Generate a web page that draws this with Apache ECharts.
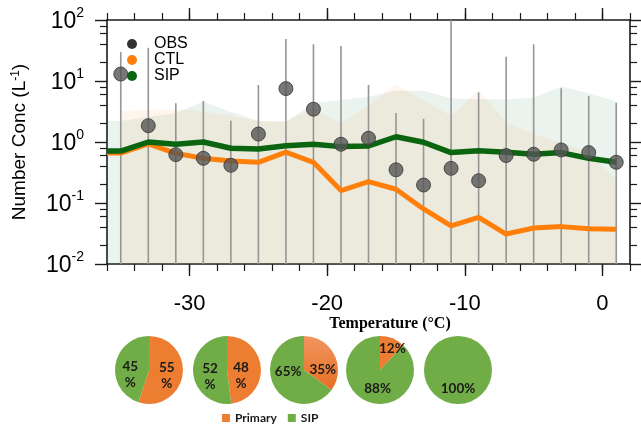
<!DOCTYPE html>
<html>
<head>
<meta charset="utf-8">
<script src="https://cdn.jsdelivr.net/npm/echarts@6/dist/echarts.min.js"></script>
<style>
  html, body { margin: 0; padding: 0; background: #ffffff; }
  #chart { width: 641px; height: 425px; }
</style>
</head>
<body>
<div id="chart"></div>
<script>
// Observed ice number concentration (L^-1) per 2 °C temperature bin
const obsTemp = [-35, -33, -31, -29, -27, -25, -23, -21, -19, -17, -15, -13, -11, -9, -7, -5, -3, -1, 1];
const obsMean = [13.0, 1.85, 0.62, 0.54, 0.415, 1.35, 7.5, 3.45, 0.92, 1.15, 0.35, 0.197, 0.37, 0.232, 0.60, 0.63, 0.74, 0.67, 0.465];
const obsHigh = [30, 35, 4.3, 4.7, 2.23, 8.6, 49, 40, 37.5, 8.6, 3.0, 2.4, 100, 6.5, 25, 40, 7.6, 5.7, 4.4];
const obsLow  = [0.01, 0.01, 0.01, 0.01, 0.01, 0.01, 0.01, 0.01, 0.01, 0.01, 0.01, 0.01, 0.01, 0.01, 0.01, 0.01, 0.01, 0.01, 0.01];

// Model runs: CTL (primary nucleation only) and SIP (with secondary ice production)
const modelTemp = [-36, -35, -33, -31, -29, -27, -25, -23, -21, -19, -17, -15, -13, -11, -9, -7, -5, -3, -1, 1];
const ctlMean = [0.66, 0.66, 0.93, 0.65, 0.54, 0.49, 0.465, 0.68, 0.465, 0.16, 0.224, 0.168, 0.08, 0.042, 0.058, 0.031, 0.039, 0.041, 0.038, 0.037];
const sipMean = [0.71, 0.71, 1.0, 0.92, 1.0, 0.79, 0.77, 0.87, 0.92, 0.84, 0.86, 1.22, 0.99, 0.67, 0.72, 0.68, 0.63, 0.67, 0.54, 0.465];

// Upper envelopes of the model spread (shaded down to the axis floor)
const sipUpper = [2.2, 2.2, 2.57, 3.0, 4.6, 3.1, 2.2, 2.15, 4.3, 4.9, 5.5, 6.9, 6.9, 5.2, 5.0, 5.0, 5.3, 8.1, 6.3, 4.6];
const ctlUpperTemp = [-35, -33, -31, -29, -27, -25, -23, -21, -19, -17, -15, -13, -11, -9, -7, -5, -3, -1, 1];
const ctlUpper = [3.2, 3.35, 3.4, 3.2, 2.67, 2.2, 2.15, 3.6, 2.0, 4.0, 8.8, 4.9, 2.67, 7.1, 2.1, 1.35, 0.98, 0.69, 0.24];

// Share of ice from primary nucleation vs SIP (%), one pie per temperature range
const pieNames = ['Primary', 'SIP'];
const primaryShare = [55, 48, 35, 12, 0];
const sipShare = [45, 52, 65, 88, 100];

// Axis ticks
const xMajorTicks = [-30, -20, -10, 0];
const yMinorTicks = [];
[0.01, 0.1, 1, 10].forEach(d => [2, 4, 6, 8].forEach(m => yMinorTicks.push(+(d * m).toPrecision(3))));

const FONT = 'Liberation Sans';
const AXIS_COLOR = '#1a1a1a';
const PRIMARY_COLOR = '#ED7D31';
const SIP_PIE_COLOR = '#70AD47';
const pieCentersX = [149, 227, 304, 380, 458];
const pieWrap = [true, true, false, false, false];
// label nudges [dx, dy] for the primary and SIP slice labels of each pie
const labelNudge = [
  [[-2, 3], [1, 8]],
  [[-6, 7], [3, 5]],
  [[1, 9], [2, -7]],
  [[5, -3], [5, 0]],
  [[0, 0], [0, -1]]
];

const chart = echarts.init(document.getElementById('chart'), null, { renderer: 'canvas' });

function xAxisDef(position, major) {
  return {
    type: 'value', position: position, min: -36, max: 2,
    interval: major ? undefined : 2,
    axisLine: { show: major, onZero: false, lineStyle: { color: AXIS_COLOR, width: 1.6 } },
    axisTick: major
      ? { show: true, inside: false, length: 12, customValues: xMajorTicks, lineStyle: { color: AXIS_COLOR, width: 1.4 } }
      : { show: true, inside: false, length: 7, lineStyle: { color: AXIS_COLOR, width: 1.2 } },
    axisLabel: (major && position === 'bottom')
      ? { show: true, customValues: xMajorTicks, fontFamily: FONT, fontSize: 22, color: '#000', margin: 29 }
      : { show: false },
    splitLine: { show: false }
  };
}

function yAxisDef(position, major) {
  return {
    type: 'log', logBase: 10, position: position, min: 0.01, max: 100,
    axisLine: { show: major, onZero: false, lineStyle: { color: AXIS_COLOR, width: 1.6 } },
    axisTick: major
      ? { show: true, inside: false, length: 12, lineStyle: { color: AXIS_COLOR, width: 1.4 } }
      : { show: true, inside: false, length: 7, customValues: yMinorTicks, lineStyle: { color: AXIS_COLOR, width: 1.2 } },
    axisLabel: (major && position === 'left') ? {
      show: true, margin: 23,
      formatter: v => '{b|10}{s|' + Math.round(Math.log10(v)) + '}',
      rich: {
        b: { fontFamily: FONT, fontSize: 23, color: '#000', lineHeight: 27, verticalAlign: 'bottom' },
        s: { fontFamily: FONT, fontSize: 14, color: '#000', lineHeight: 14, verticalAlign: 'top' }
      }
    } : { show: false },
    splitLine: { show: false }
  };
}

const pieSeries = primaryShare.map((p, i) => ({
  type: 'pie', name: 'share' + i,
  center: [pieCentersX[i], 370], radius: 34,
  startAngle: 90, clockwise: true, silent: true, animation: false,
  label: {
    show: true, position: 'inside', align: 'center',
    fontFamily: 'Lato', fontWeight: 'bold', fontSize: 13.5, color: '#1a1a1a', lineHeight: 16,
    formatter: prm => prm.value > 0 ? (prm.value + (pieWrap[i] ? '\n%' : '%')) : ''
  },
  labelLayout: prm => ({ dx: labelNudge[i][prm.dataIndex][0], dy: labelNudge[i][prm.dataIndex][1] }),
  labelLine: { show: false },
  emphasis: { disabled: true },
  data: [
    { name: pieNames[0], value: p,
      itemStyle: { color: i === 2
        ? new echarts.graphic.LinearGradient(0, 0, 0, 1, [{ offset: 0, color: '#F09560' }, { offset: 1, color: '#E86F22' }])
        : PRIMARY_COLOR } },
    { name: pieNames[1], value: sipShare[i], itemStyle: { color: SIP_PIE_COLOR } }
  ]
}));

const option = {
  animation: false,
  backgroundColor: '#ffffff',
  grid: { left: 107, right: 11, top: 20, bottom: 161, containLabel: false },
  xAxis: [xAxisDef('bottom', true), xAxisDef('bottom', false), xAxisDef('top', true), xAxisDef('top', false)],
  yAxis: [yAxisDef('left', true), yAxisDef('left', false), yAxisDef('right', true), yAxisDef('right', false)],
  legend: [
    {
      orient: 'vertical', left: 127, top: 36, padding: 0,
      itemWidth: 10, itemHeight: 10, itemGap: 0, icon: 'circle',
      selectedMode: false,
      textStyle: { fontFamily: FONT, fontSize: 16, color: '#000', lineHeight: 15, padding: [0, 0, 0, 12] },
      data: [
        { name: 'OBS', itemStyle: { color: '#000', borderWidth: 0 } },
        { name: 'CTL', itemStyle: { color: '#ff7f0a', borderWidth: 0 } },
        { name: 'SIP', itemStyle: { color: '#0a6410', borderWidth: 0 } }
      ]
    },
    {
      orient: 'horizontal', left: 222, top: 412, padding: 0,
      itemWidth: 8, itemHeight: 8, itemGap: 11, icon: 'rect',
      selectedMode: false,
      textStyle: { fontFamily: 'Lato', fontWeight: 'bold', fontSize: 12, color: '#1a1a1a' },
      data: [
        { name: 'Primary', itemStyle: { color: PRIMARY_COLOR, borderWidth: 0 } },
        { name: 'SIP', itemStyle: { color: SIP_PIE_COLOR, borderWidth: 0 } }
      ]
    }
  ],
  graphic: [
    {
      type: 'text', x: 20, y: 142, rotation: Math.PI / 2, silent: true,
      style: {
        text: 'Number Conc (L{s|-1})', fontFamily: FONT, fontSize: 19, fill: '#000',
        align: 'center', verticalAlign: 'middle',
        rich: { s: { fontFamily: FONT, fontSize: 12, fill: '#000', verticalAlign: 'top', padding: [0, 0, 8, 0] } }
      }
    },
    {
      type: 'text', x: 390, y: 324, silent: true,
      style: {
        text: 'Temperature (°C)', fontFamily: 'Liberation Serif', fontWeight: 'bold', fontSize: 16,
        fill: '#000', align: 'center', verticalAlign: 'middle'
      }
    }
  ],
  series: [
    {
      name: 'SIP range', type: 'line', data: modelTemp.map((t, i) => [t, sipUpper[i]]),
      symbol: 'none', silent: true, lineStyle: { width: 0 },
      areaStyle: { color: 'rgba(20,120,60,0.13)', origin: 'start' }, z: 1
    },
    {
      name: 'CTL range', type: 'line', data: ctlUpperTemp.map((t, i) => [t, ctlUpper[i]]),
      symbol: 'none', silent: true, lineStyle: { width: 0 },
      areaStyle: { color: 'rgba(255,160,80,0.15)', origin: 'start' }, z: 1
    },
    {
      name: 'OBS range', type: 'custom', silent: true, z: 2,
      data: obsTemp.map((t, i) => [t, obsLow[i], obsHigh[i]]),
      encode: { x: 0, y: [1, 2] },
      renderItem: (params, api) => {
        const p1 = api.coord([api.value(0), api.value(1)]);
        const p2 = api.coord([api.value(0), api.value(2)]);
        return {
          type: 'line',
          shape: { x1: p1[0], y1: p1[1], x2: p2[0], y2: p2[1] },
          style: { stroke: '#959595', lineWidth: 1.6 }
        };
      }
    },
    {
      name: 'CTL', type: 'line', data: modelTemp.map((t, i) => [t, ctlMean[i]]),
      symbol: 'none', color: '#ff7f0a', lineStyle: { color: '#ff7f0a', width: 5 }, z: 3
    },
    {
      name: 'SIP', type: 'line', data: modelTemp.map((t, i) => [t, sipMean[i]]),
      symbol: 'none', color: '#0a6410', lineStyle: { color: '#0a6410', width: 5.5 }, z: 4
    },
    {
      name: 'OBS', type: 'scatter', data: obsTemp.map((t, i) => [t, obsMean[i]]),
      symbol: 'circle', symbolSize: 14,
      itemStyle: { color: '#555555', borderColor: '#363636', borderWidth: 1 }, z: 5
    },
    ...pieSeries
  ]
};

chart.setOption(option);
</script>
</body>
</html>
